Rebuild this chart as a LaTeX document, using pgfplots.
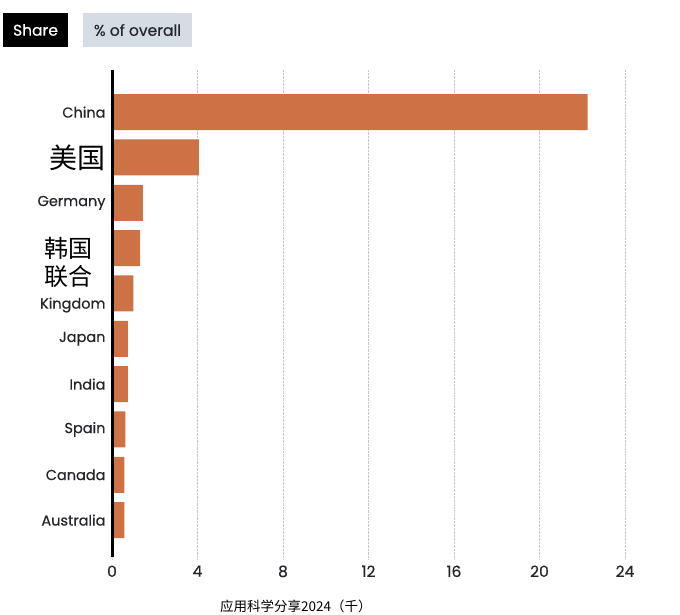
\documentclass[border=0pt]{standalone}
\usepackage{fontspec}
\setmainfont{Poppins}[FakeBold=0.35]
\newfontfamily\med{Poppins}[FakeBold=0.35]
\newfontfamily\cjk{Noto Sans CJK SC}
\usepackage{pgfplots}
\pgfplotsset{compat=1.18}
\definecolor{barc}{RGB}{204,114,69}
\definecolor{btn}{RGB}{214,220,228}
\definecolor{lab}{RGB}{36,36,44}
\begin{document}
\begin{tikzpicture}[x=1pt,y=1pt]
\useasboundingbox (0,0) rectangle (680,614);
\fill[white] (0,0) rectangle (680,614);
\fill[black] (3,567) rectangle (68,601);
\node[text=white, font=\med\fontsize{15.5}{17}\selectfont] at (35.5,584) {Share};
\fill[btn] (83,567) rectangle (192,601);
\node[text=lab, font=\med\fontsize{15.5}{17}\selectfont] at (137.5,584) {\% of overall};
\begin{axis}[
  at={(112pt,54pt)}, anchor=south west, scale only axis,
  width=513pt, height=490pt,
  xmin=0, xmax=24, ymin=-0.93, ymax=9.88, y dir=reverse,
  xbar, bar width=36pt,
  axis line style={draw=none},
  xtick={0,4,...,24}, ytick={0,1,2,3,3.9,5,6,7,8,9},
  major tick length=0pt,
  xmajorgrids, grid style={densely dotted, gray!45, line width=0.8pt},
  /pgf/number format/assume math mode=true,
  xticklabel style={font=\med\fontsize{15.5}{17}\selectfont, text=lab, yshift=-2pt},
  yticklabel style={font=\med\fontsize{14.5}{16}\selectfont, text=lab, align=right, xshift=-3pt},
  yticklabels={{China},{\cjk\fontsize{28}{30}\selectfont\color{black}美国},{Germany},{\cjk\fontsize{24}{26}\selectfont\color{black}韩国\hspace*{13pt}},{{\cjk\fontsize{24}{26}\selectfont\color{black}联合\hspace*{13pt}}\\[7pt]Kingdom},{Japan},{India},{Spain},{Canada},{Australia}},
  clip=false,
]
\addplot[fill=barc, draw=none] coordinates {
(22.25,0) (4.07,1) (1.45,2) (1.32,3) (1.0,4) (0.74,5) (0.74,6) (0.62,7) (0.58,8) (0.58,9)};
\draw[black, line width=3pt] (axis cs:0,-0.93) -- (axis cs:0,9.82);
\end{axis}
\node[font=\cjk\fontsize{13.5}{15}\selectfont, anchor=west, inner sep=0pt] at (220,8) {应用科学分享2024（千）};
\end{tikzpicture}
\end{document}
